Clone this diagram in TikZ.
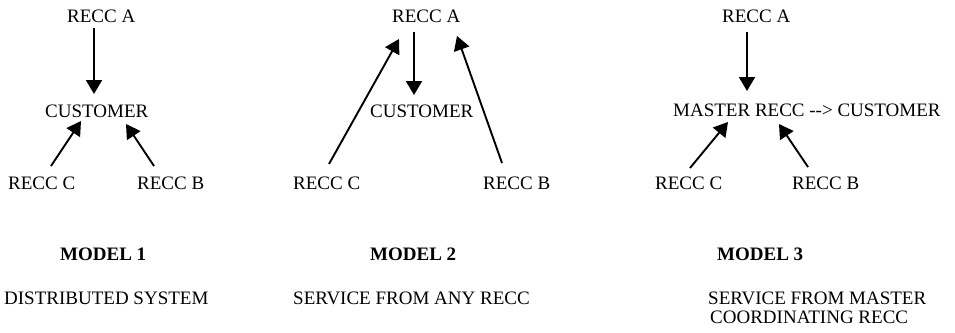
\documentclass[tikz,border=0pt]{standalone}
\usepackage{fontspec}
\setmainfont{Liberation Serif}
\usetikzlibrary{arrows.meta}
\begin{document}
\begin{tikzpicture}[x=1pt,y=-1pt,
  lbl/.style={anchor=base west,inner sep=0pt,font=\fontsize{19}{22}\selectfont},
  ttl/.style={anchor=base west,inner sep=0pt,font=\fontsize{19}{22}\selectfont\bfseries},
  arr/.style={line width=1.9pt,-{Triangle[width=16pt,length=14pt]}}]
\useasboundingbox[fill=white] (0,0) rectangle (955,332);
% Model 1
\node[lbl] (a1) at (67,22) {RECC A};
\node[lbl] (cu1) at (45,117) {CUSTOMER};
\node[lbl] (c1) at (8,189) {RECC C};
\node[lbl] (b1) at (137,189) {RECC B};
\node[ttl] (m1) at (60,260) {MODEL 1};
\node[lbl] (d1) at (4,304) {DISTRIBUTED SYSTEM};
\coordinate (a1s) at (94,28);  \coordinate (a1e) at (94,94);
\coordinate (c1s) at (51,166); \coordinate (c1e) at (81,121);
\coordinate (b1s) at (154,166); \coordinate (b1e) at (126,124);
\draw[arr] (a1s) -- (a1e);
\draw[arr] (c1s) -- (c1e);
\draw[arr] (b1s) -- (b1e);
% Model 2
\node[lbl] (a2) at (392,22) {RECC A};
\node[lbl] (cu2) at (370,117) {CUSTOMER};
\node[lbl] (c2) at (293,189) {RECC C};
\node[lbl] (b2) at (483,189) {RECC B};
\node[ttl] (m2) at (370,260) {MODEL 2};
\node[lbl] (d2) at (293,304) {SERVICE FROM ANY RECC};
\coordinate (a2s) at (414,32);  \coordinate (a2e) at (414,95);
\coordinate (c2s) at (329,164); \coordinate (c2e) at (399,39);
\coordinate (b2s) at (502,163); \coordinate (b2e) at (457,36);
\draw[arr] (a2s) -- (a2e);
\draw[arr] (c2s) -- (c2e);
\draw[arr] (b2s) -- (b2e);
% Model 3
\node[lbl] (a3) at (722,22) {RECC A};
\node[lbl] (cu3) at (673,116) {MASTER RECC -{}-{}> CUSTOMER};
\node[lbl] (c3) at (655,189) {RECC C};
\node[lbl] (b3) at (792,189) {RECC B};
\node[ttl] (m3) at (717,260) {MODEL 3};
\node[lbl] (d3) at (708,304) {SERVICE FROM MASTER};
\node[lbl] (e3) at (710,323) {COORDINATING RECC};
\coordinate (a3s) at (747,32);  \coordinate (a3e) at (747,91);
\coordinate (c3s) at (690,168); \coordinate (c3e) at (728,122);
\coordinate (b3s) at (808,167); \coordinate (b3e) at (779,124);
\draw[arr] (a3s) -- (a3e);
\draw[arr] (c3s) -- (c3e);
\draw[arr] (b3s) -- (b3e);
\end{tikzpicture}
\end{document}
